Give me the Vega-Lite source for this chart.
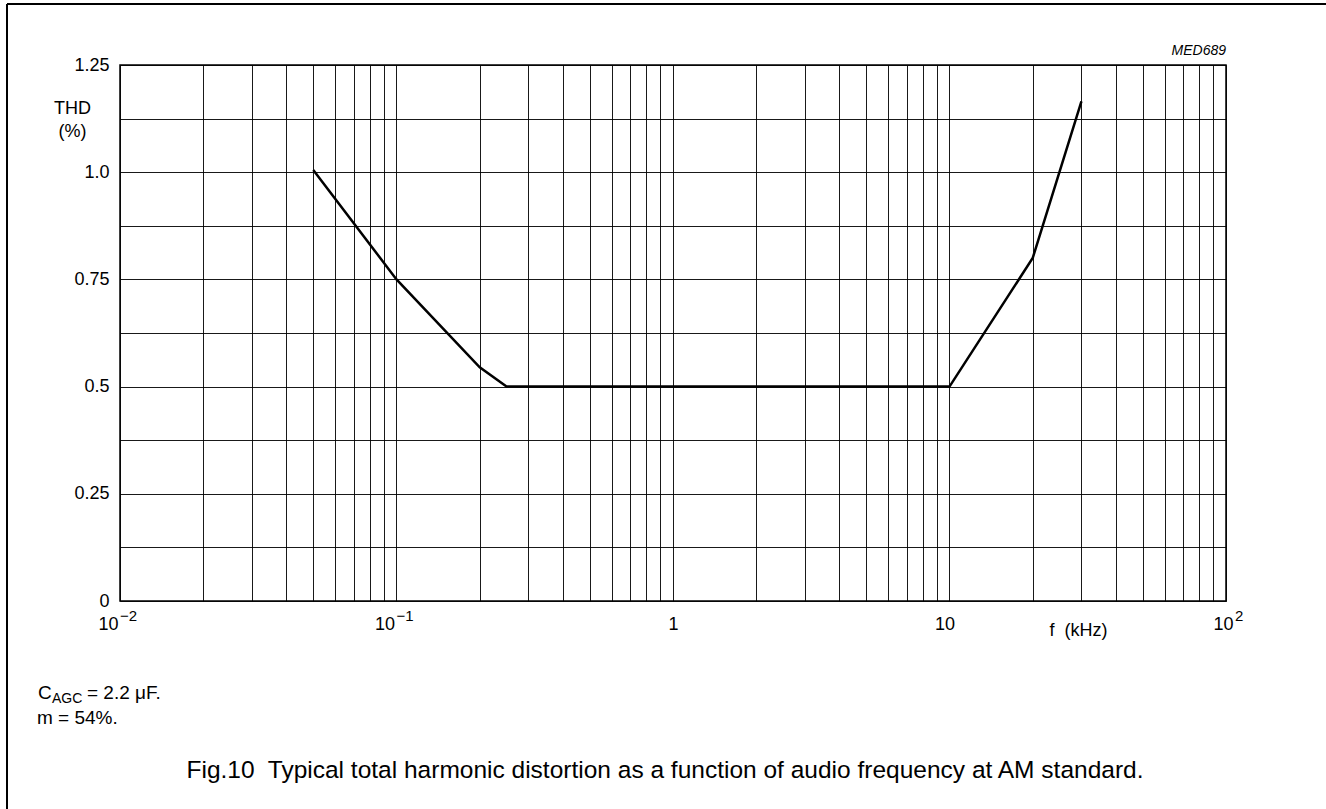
{
  "$schema": "https://vega.github.io/schema/vega-lite/v6.json",
  "autosize": {"type": "none"},
  "padding": {"left": 120, "top": 65, "right": 100, "bottom": 208},
  "width": 1106,
  "height": 536,
  "background": "white",
  "config": {
    "view": {"stroke": "black", "strokeWidth": 1.5},
    "font": "Liberation Sans",
    "axis": {
      "domain": false,
      "ticks": false,
      "grid": true,
      "gridColor": "black",
      "gridWidth": 1,
      "gridOpacity": 0.9,
      "labelFont": "Liberation Sans",
      "labelFontSize": 18,
      "labelColor": "black",
      "titleFont": "Liberation Sans",
      "titleFontSize": 18,
      "titleFontWeight": "normal",
      "titleColor": "black"
    }
  },
  "layer": [
    {
      "data": {"values": [
        {"f": 0.05, "thd": 1.005},
        {"f": 0.1, "thd": 0.75},
        {"f": 0.2, "thd": 0.545},
        {"f": 0.25, "thd": 0.5},
        {"f": 10, "thd": 0.5},
        {"f": 20, "thd": 0.8},
        {"f": 30, "thd": 1.165}
      ]},
      "mark": {"type": "line", "color": "black", "strokeWidth": 2.5, "strokeJoin": "miter"},
      "encoding": {
        "x": {
          "field": "f",
          "type": "quantitative",
          "scale": {"type": "log", "domain": [0.01, 100], "nice": false},
          "axis": {
            "values": [0.01,0.02,0.03,0.04,0.05,0.06,0.07,0.08,0.09,0.1,0.2,0.3,0.4,0.5,0.6,0.7,0.8,0.9,1,2,3,4,5,6,7,8,9,10,20,30,40,50,60,70,80,90,100],
            "labelExpr": "datum.value == 0.01 ? '10' : datum.value == 0.1 ? '10' : datum.value == 1 ? '1' : datum.value == 10 ? '10' : datum.value == 100 ? '10' : ''",
            "labelOverlap": false,
            "labelFlush": false,
            "labelBaseline": "top",
            "labelPadding": 14,
            "labelAlign": {"condition": {"test": "datum.value < 0.5 || datum.value > 50", "value": "right"}, "value": "center"},
            "labelOffset": {"condition": [
              {"test": "datum.value > 50", "value": 7},
              {"test": "datum.value > 5", "value": -5},
              {"test": "datum.value < 0.5", "value": -2}
            ], "value": 0},
            "title": "f\u00a0 (kHz)",
            "titleX": 958,
            "titleY": 34,
            "titleAlign": "center",
            "titleBaseline": "alphabetic"
          }
        },
        "y": {
          "field": "thd",
          "type": "quantitative",
          "scale": {"domain": [0, 1.25], "nice": false, "zero": true},
          "axis": {
            "values": [0,0.125,0.25,0.375,0.5,0.625,0.75,0.875,1,1.125,1.25],
            "labelExpr": "datum.value == 0 ? '0' : datum.value == 0.25 ? '0.25' : datum.value == 0.5 ? '0.5' : datum.value == 0.75 ? '0.75' : datum.value == 1 ? '1.0' : datum.value == 1.25 ? '1.25' : ''",
            "labelOverlap": false,
            "labelFlush": false,
            "labelPadding": 11,
            "labelBaseline": "middle",
            "title": ["THD", "(%)"],
            "titleAngle": 0,
            "titleX": -48,
            "titleY": 48,
            "titleAlign": "center",
            "titleBaseline": "alphabetic",
            "titleLineHeight": 23
          }
        }
      }
    },
    {
      "data": {"values": [{"f": 0.01, "e": "−2"}, {"f": 0.1, "e": "−1"}]},
      "mark": {"type": "text", "align": "left", "baseline": "alphabetic", "fontSize": 15, "font": "Liberation Sans", "color": "black", "dx": 0, "dy": 20},
      "encoding": {"x": {"field": "f", "type": "quantitative"}, "y": {"datum": 0}, "text": {"field": "e"}}
    },
    {
      "data": {"values": [{"f": 100, "e": "2"}]},
      "mark": {"type": "text", "align": "left", "baseline": "alphabetic", "fontSize": 15, "font": "Liberation Sans", "color": "black", "dx": 9, "dy": 20},
      "encoding": {"x": {"field": "f", "type": "quantitative"}, "y": {"datum": 0}, "text": {"field": "e"}}
    },
    {
      "data": {"values": [{"note": "MED689"}]},
      "mark": {"type": "text", "align": "right", "baseline": "alphabetic", "fontSize": 14, "fontStyle": "italic", "font": "Liberation Sans", "color": "black", "dy": -10},
      "encoding": {"x": {"datum": 100}, "y": {"datum": 1.25}, "text": {"field": "note"}}
    },
    {
      "data": {"values": [{"note": "C"}]},
      "mark": {"type": "text", "align": "left", "baseline": "alphabetic", "fontSize": 19, "font": "Liberation Sans", "color": "black", "dx": -82, "dy": 98},
      "encoding": {"x": {"datum": 0.01}, "y": {"datum": 0}, "text": {"field": "note"}}
    },
    {
      "data": {"values": [{"note": "AGC"}]},
      "mark": {"type": "text", "align": "left", "baseline": "alphabetic", "fontSize": 14, "font": "Liberation Sans", "color": "black", "dx": -68, "dy": 102},
      "encoding": {"x": {"datum": 0.01}, "y": {"datum": 0}, "text": {"field": "note"}}
    },
    {
      "data": {"values": [{"note": "= 2.2 μF."}]},
      "mark": {"type": "text", "align": "left", "baseline": "alphabetic", "fontSize": 19, "font": "Liberation Sans", "color": "black", "dx": -33, "dy": 98},
      "encoding": {"x": {"datum": 0.01}, "y": {"datum": 0}, "text": {"field": "note"}}
    },
    {
      "data": {"values": [{"note": "m = 54%."}]},
      "mark": {"type": "text", "align": "left", "baseline": "alphabetic", "fontSize": 19, "font": "Liberation Sans", "color": "black", "dx": -83, "dy": 123},
      "encoding": {"x": {"datum": 0.01}, "y": {"datum": 0}, "text": {"field": "note"}}
    },
    {
      "data": {"values": [{"note": "Fig.10\u00a0 Typical total harmonic distortion as a function of audio frequency at AM standard."}]},
      "mark": {"type": "text", "align": "center", "baseline": "alphabetic", "fontSize": 24.5, "font": "Liberation Sans", "color": "black", "dx": -8, "dy": 177},
      "encoding": {"x": {"datum": 1}, "y": {"datum": 0}, "text": {"field": "note"}}
    },
    {
      "data": {"values": [{"edge": "left"}]},
      "mark": {"type": "rule", "color": "black", "strokeWidth": 2},
      "encoding": {"x": {"datum": 0.0039023}, "y": {"datum": -0.5}, "y2": {"datum": 1.39226}}
    },
    {
      "data": {"values": [{"edge": "top"}]},
      "mark": {"type": "rule", "color": "black", "strokeWidth": 2},
      "encoding": {"x": {"datum": 0.0039023}, "x2": {"datum": 300}, "y": {"datum": 1.39226}}
    }
  ]
}
